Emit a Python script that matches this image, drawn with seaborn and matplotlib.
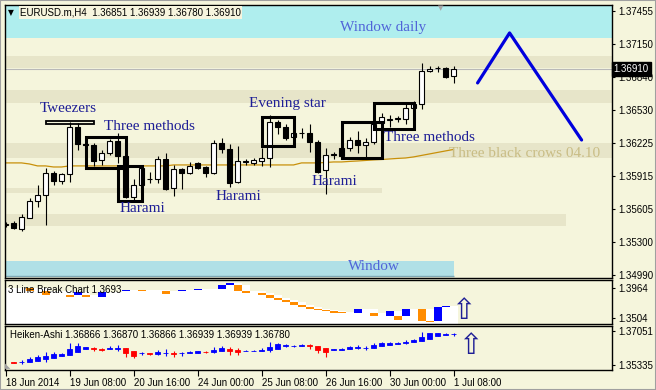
import numpy as np
import pandas as pd
import matplotlib
matplotlib.use('Agg')
import matplotlib.pyplot as plt
import matplotlib.transforms as mtransforms
from matplotlib.patches import Rectangle
import seaborn as sns

# EURUSD.m H4 candles, 18 Jun 2014 00:00 -> 1 Jul 2014 08:00 (57 bars)
opens = [1.35457, 1.35475, 1.35419, 1.35522, 1.35681, 1.35737, 1.35942, 1.35868, 1.35933, 1.36372,
         1.36213, 1.36204, 1.36064, 1.36129, 1.36241, 1.36101, 1.35718, 1.35830, 1.35886, 1.35886,
         1.36073, 1.35802, 1.35980, 1.35942, 1.36036, 1.35998, 1.35942, 1.36222, 1.36166, 1.35858,
         1.36045, 1.36036, 1.36054, 1.36082, 1.36419, 1.36372, 1.36278, 1.36316, 1.36316, 1.36232,
         1.35970, 1.36110, 1.36176, 1.36176, 1.36250, 1.36204, 1.36232, 1.36409, 1.36437, 1.36447,
         1.36447, 1.36549, 1.36587, 1.36895, 1.36923, 1.36923, 1.36851]
highs = [1.35485, 1.35494, 1.35559, 1.35709, 1.35830, 1.35989, 1.35961, 1.35942, 1.36419, 1.36409,
         1.36232, 1.36222, 1.36157, 1.36260, 1.36316, 1.36110, 1.35886, 1.35998, 1.35952, 1.36101,
         1.36129, 1.36017, 1.35985, 1.36045, 1.36045, 1.36008, 1.36250, 1.36269, 1.36213, 1.36194,
         1.36073, 1.36082, 1.36176, 1.36484, 1.36437, 1.36400, 1.36344, 1.36363, 1.36400, 1.36250,
         1.36176, 1.36138, 1.36194, 1.36278, 1.36335, 1.36269, 1.36419, 1.36503, 1.36484, 1.36475,
         1.36596, 1.36615, 1.36970, 1.36942, 1.36942, 1.36932, 1.36939]
lows = [1.35438, 1.35419, 1.35401, 1.35522, 1.35625, 1.35457, 1.35830, 1.35839, 1.35858, 1.36157,
        1.36185, 1.36008, 1.36017, 1.36110, 1.36036, 1.35709, 1.35671, 1.35821, 1.35849, 1.35849,
        1.35783, 1.35727, 1.35793, 1.35933, 1.35980, 1.35905, 1.35933, 1.36129, 1.35811, 1.35849,
        1.36017, 1.36017, 1.36008, 1.35998, 1.36306, 1.36250, 1.36250, 1.36269, 1.36138, 1.35942,
        1.35746, 1.36073, 1.36092, 1.36148, 1.36129, 1.36092, 1.36213, 1.36381, 1.36372, 1.36419,
        1.36400, 1.36540, 1.36540, 1.36886, 1.36886, 1.36830, 1.36780]
closes = [1.35466, 1.35429, 1.35531, 1.35681, 1.35737, 1.35942, 1.35868, 1.35933, 1.36372, 1.36213,
          1.36204, 1.36054, 1.36129, 1.36241, 1.36101, 1.35718, 1.35830, 1.35989, 1.35890, 1.36073,
          1.35793, 1.35980, 1.35942, 1.36008, 1.35989, 1.35942, 1.36222, 1.36166, 1.35849, 1.36054,
          1.36050, 1.36064, 1.36082, 1.36419, 1.36372, 1.36269, 1.36316, 1.36320, 1.36232, 1.35952,
          1.36110, 1.36115, 1.36101, 1.36250, 1.36204, 1.36232, 1.36400, 1.36465, 1.36442, 1.36452,
          1.36549, 1.36587, 1.36895, 1.36914, 1.36927, 1.36839, 1.36910]
ma = [1.36036, 1.36036, 1.36036, 1.36026, 1.36008, 1.36008, 1.35998, 1.35998, 1.36008, 1.36008,
      1.36008, 1.36008, 1.36008, 1.36008, 1.36008, 1.36008, 1.36008, 1.36008, 1.36008, 1.36008,
      1.36008, 1.36017, 1.36017, 1.36017, 1.36017, 1.36017, 1.36017, 1.36017, 1.36017, 1.36017,
      1.36017, 1.36017, 1.36017, 1.36017, 1.36017, 1.36017, 1.36017, 1.36036, 1.36036, 1.36036,
      1.36040, 1.36045, 1.36045, 1.36050, 1.36054, 1.36059, 1.36064, 1.36068, 1.36073, 1.36078,
      1.36082, 1.36092, 1.36106, 1.36120, 1.36134, 1.36148, 1.36162]

time_ticks = [0, 8, 16, 24, 32, 40, 48, 56]
time_labels = ['18 Jun 2014', '19 Jun 08:00', '20 Jun 16:00', '24 Jun 00:00',
               '25 Jun 08:00', '26 Jun 16:00', '30 Jun 00:00', '1 Jul 08:00']
price_ticks = [1.37455, 1.37150, 1.36840, 1.36530, 1.36225, 1.35915, 1.35605, 1.35300, 1.34990]

# support / resistance zones and windows
zone_lo = [1.37203, 1.36923, 1.36596, 1.36082, 1.35755, 1.35447, 1.34980]
zone_hi = [1.37600, 1.37035, 1.36717, 1.36222, 1.35802, 1.35559, 1.35120]
zone_end = [76, 76, 76, 76, 47, 70, 56]
zone_col = ['#AFEEEE', '#E7E5C9', '#E7E5C9', '#E7E5C9', '#E7E5C9', '#E7E5C9', '#B0E0E6']

# candle pattern boxes (bar index from/to, price range)
box_start = [5, 10, 14, 32, 42, 46]
box_end = [11, 15, 17, 36, 47, 51]
box_lo = [1.36400, 1.35989, 1.35681, 1.36194, 1.36082, 1.36353]
box_hi = [1.36428, 1.36278, 1.36008, 1.36465, 1.36419, 1.36596]
box_lw = [1.3, 2.2, 2.2, 2.2, 2.2, 2.2]

label_text = ['Tweezers', 'Three methods', 'Evening star', 'Harami', 'Harami', 'Harami', 'Three methods']
label_x = [4.3, 12.3, 30.45, 14.2, 26.2, 38.2, 47.3]
label_y = [1.36540, 1.36372, 1.36587, 1.35606, 1.35718, 1.35858, 1.36269]

# forecast zigzag
zig_x = [59, 63, 72]
zig_y = [1.36783, 1.37250, 1.36250]

# 3 Line Break blocks (indicator scale)
lb_idx = [3, 5, 8, 9, 10, 12, 15, 17, 20, 22, 24, 27, 28, 29, 30, 32, 33, 34, 35, 36, 37, 38,
          39, 40, 41, 42, 44, 46, 48, 49, 50, 52, 53, 54, 55]
lb_lo = [1.39180, 1.38567, 1.38260, 1.38567, 1.38260, 1.38260, 1.39180, 1.39180, 1.38720, 1.39180,
         1.39333, 1.39487, 1.40100, 1.39180, 1.38873, 1.38567, 1.38107, 1.37800, 1.37493, 1.37033,
         1.36727, 1.36420, 1.36267, 1.36113, 1.35807, 1.35807, 1.35807, 1.35347, 1.35347, 1.34733,
         1.35347, 1.34580, 1.34427, 1.34580, 1.36727]
lb_hi = [1.39640, 1.39180, 1.38567, 1.39027, 1.38567, 1.39027, 1.39333, 1.39333, 1.39180, 1.39333,
         1.39487, 1.40100, 1.40407, 1.40100, 1.39180, 1.38873, 1.38567, 1.38107, 1.37800, 1.37493,
         1.37033, 1.36727, 1.36420, 1.36267, 1.36113, 1.35960, 1.36420, 1.35807, 1.36113, 1.35347,
         1.36420, 1.36420, 1.34580, 1.36727, 1.36880]
lb_up = [0, 0, 0, 1, 0, 1, 1, 0, 0, 1, 1, 1, 1, 0, 0, 0, 0, 0, 0, 0, 0, 0,
         0, 0, 0, 0, 1, 0, 1, 0, 1, 0, 0, 1, 1]

BG = '#F5F5DC'
NAVY = '#1E1E96'

sns.set_theme(style='white')
plt.rcParams['font.family'] = ['Liberation Sans', 'DejaVu Sans']

df = pd.DataFrame({'o': opens, 'h': highs, 'l': lows, 'c': closes, 'ma': ma})
df['i'] = np.arange(len(df))

fig = plt.figure(figsize=(6.56, 3.9), dpi=100, facecolor=BG)


def panel(top, bottom):
    return fig.add_axes([4.5 / 656, 1 - bottom / 390, 607.5 / 656, (bottom - top) / 390])


ax = panel(5, 278)
ax3 = panel(280, 324)
axh = panel(326, 370)

# ---------------- main price panel
for lo, hi, end, col in zip(zone_lo, zone_hi, zone_end, zone_col):
    ax.fill_between([-0.5, end], lo, hi, color=col, lw=0, zorder=0.5)
ax.hlines(zone_lo[-1], -0.5, zone_end[-1], color='#7FA8B4', lw=1.0, zorder=0.6)
ax.axhline(closes[-1], color='#B8B8B8', lw=0.8, zorder=1)

sns.lineplot(x=df['i'], y=df['ma'], ax=ax, color='#C8900A', lw=0.9, zorder=2)

up = df['c'] >= df['o']
ax.vlines(df['i'], df['l'], df['h'], color='black', lw=0.8, zorder=3)
ax.bar(df['i'], (df['c'] - df['o']).abs(), bottom=df[['o', 'c']].min(axis=1), width=0.55,
       color=np.where(up, 'white', 'black'), edgecolor='black', linewidth=0.8, zorder=4)

for x0, x1, lo, hi, lw in zip(box_start, box_end, box_lo, box_hi, box_lw):
    ax.add_patch(Rectangle((x0, lo), x1 - x0, hi - lo, fill=False, ec='black', lw=lw, zorder=5))

for t, x, y in zip(label_text, label_x, label_y):
    ax.text(x, y, t, color=NAVY, fontsize=11, family='Liberation Serif', va='center', ha='left', zorder=6)
ax.text(55.45, 1.36120, 'Three black crows 04.10', color='#C9BD85', fontsize=11,
        family='Liberation Serif', va='center', ha='left', zorder=6)
ax.text(41.8, 1.37297, 'Window daily', color='#5064D8', fontsize=11,
        family='Liberation Serif', va='center', ha='left', zorder=6)
ax.text(42.8, 1.35064, 'Window', color='#5064D8', fontsize=11,
        family='Liberation Serif', va='center', ha='left', zorder=6)

sns.lineplot(x=zig_x, y=zig_y, sort=False, ax=ax, color='#0000DD', lw=2.3, zorder=6)

ax.text(0.0058, 0.9725, '\u25bc', transform=ax.transAxes, fontsize=5.5, va='center', ha='left',
        family='DejaVu Sans', color='black')
ax.text(0.0255, 0.9725, 'EURUSD.m,H4  1.36851 1.36939 1.36780 1.36910', transform=ax.transAxes,
        fontsize=7, va='center', ha='left', color='black',
        bbox=dict(boxstyle='square,pad=0.15', fc='#F7F5DE', ec='none'))
ax.text(54.4, 0.998, '\u25bc', transform=mtransforms.blended_transform_factory(ax.transData, ax.transAxes),
        fontsize=5, va='top', ha='center', family='DejaVu Sans', color='#A8A8A8')

ax.set_ylim(1.34961, 1.37511)
ax.set_yticks(price_ticks)
ax.set_yticklabels([f'{p:.5f}' for p in price_ticks])
ax.text(1.0025, closes[-1], f'{closes[-1]:.5f}',
        transform=mtransforms.blended_transform_factory(ax.transAxes, ax.transData),
        ha='left', va='center', color='white', fontsize=7, clip_on=False, zorder=10,
        bbox=dict(boxstyle='square,pad=0.2', fc='black', ec='black'))

# ---------------- 3 line break panel
s = pd.Series(lb_hi, index=lb_idx).reindex(range(len(df)))
filled = s.ffill().bfill()
white_top = np.maximum(filled, filled.shift(1).bfill()).values
xs = np.arange(-0.5, len(df) + 0.5)
ax3.fill_between(xs, 1.3412, np.append(white_top, white_top[-1]), step='post', color='white', lw=0, zorder=1)
lb_lo_a = np.array(lb_lo)
lb_hi_a = np.array(lb_hi)
ax3.bar(lb_idx, lb_hi_a - lb_lo_a, bottom=lb_lo_a, width=1.0,
        color=['#0000FF' if u else '#FF8C00' for u in lb_up], lw=0, zorder=3)
ax3.text(0.006, 0.77, '3 Line Break Chart 1.3693', transform=ax3.transAxes, fontsize=7,
         va='center', ha='left', color='black', zorder=5)
ax3.text(57.2, 1.3395, '\u21e7', fontsize=21, family='DejaVu Sans', color=NAVY,
         ha='center', va='bottom', zorder=6, clip_on=False)
ax3.set_ylim(1.3412, 1.40867)
ax3.set_yticks([1.3964, 1.3504])
ax3.set_yticklabels(['1.3964', '1.3504'])

# ---------------- Heiken-Ashi panel
ha_c = (df['o'] + df['h'] + df['l'] + df['c']) / 4
ha_o = np.zeros(len(df))
ha_o[0] = (opens[0] + closes[0]) / 2
for k in range(1, len(df)):
    ha_o[k] = (ha_o[k - 1] + ha_c.iloc[k - 1]) / 2
ha = pd.DataFrame({'i': df['i'], 'o': ha_o, 'c': ha_c})
ha['h'] = np.maximum(df['h'], np.maximum(ha['o'], ha['c']))
ha['l'] = np.minimum(df['l'], np.minimum(ha['o'], ha['c']))
ha = ha.iloc[1:]
ha_col = np.where(ha['c'] >= ha['o'], '#0000FF', '#FF0000')
axh.vlines(ha['i'], ha['l'], ha['h'], colors=ha_col, lw=0.8, zorder=3)
axh.bar(ha['i'], (ha['c'] - ha['o']).abs(), bottom=ha[['o', 'c']].min(axis=1), width=0.6,
        color=ha_col, edgecolor=ha_col, linewidth=0.6, zorder=4)
axh.text(0.009, 0.80, 'Heiken-Ashi 1.36866 1.36870 1.36866 1.36939 1.36939 1.36780',
         transform=axh.transAxes, fontsize=7, va='center', ha='left', color='black')
axh.text(58.1, 1.3628, '\u21e7', fontsize=21, family='DejaVu Sans', color=NAVY,
         ha='center', va='center', zorder=6)
axh.text(0.001, 0.01, '\u25e3', transform=axh.transAxes, fontsize=5, family='DejaVu Sans',
         color='#A0A0A0', ha='left', va='bottom')
axh.set_ylim(1.3508, 1.3728)
axh.set_yticks([1.37051, 1.35335])
axh.set_yticklabels(['1.37051', '1.35335'])

for a in (ax, ax3, axh):
    a.set_facecolor(BG)
    a.set_xlim(-0.125, 75.8)
    a.set_xlabel('')
    a.set_ylabel('')
    a.grid(False)
    for sp in a.spines.values():
        sp.set_color('black')
        sp.set_linewidth(1.0)
    a.yaxis.tick_right()
    a.tick_params(axis='y', direction='out', length=2.5, width=0.8, pad=2, labelsize=7,
                  right=True, left=False, labelright=True, labelleft=False, colors='black')
    a.tick_params(axis='x', bottom=False, labelbottom=False)

axh.set_xticks(time_ticks)
axh.set_xticklabels(time_labels, ha='left')
axh.tick_params(axis='x', bottom=True, labelbottom=True, direction='out', length=4, width=0.8,
                pad=1.5, labelsize=7, colors='black')

fig.patches.append(Rectangle((0, 0), 1, 1, transform=fig.transFigure, fill=False,
                             ec='#A0A0A0', lw=1.5))

fig.savefig('out.png', dpi=100, facecolor=fig.get_facecolor())
